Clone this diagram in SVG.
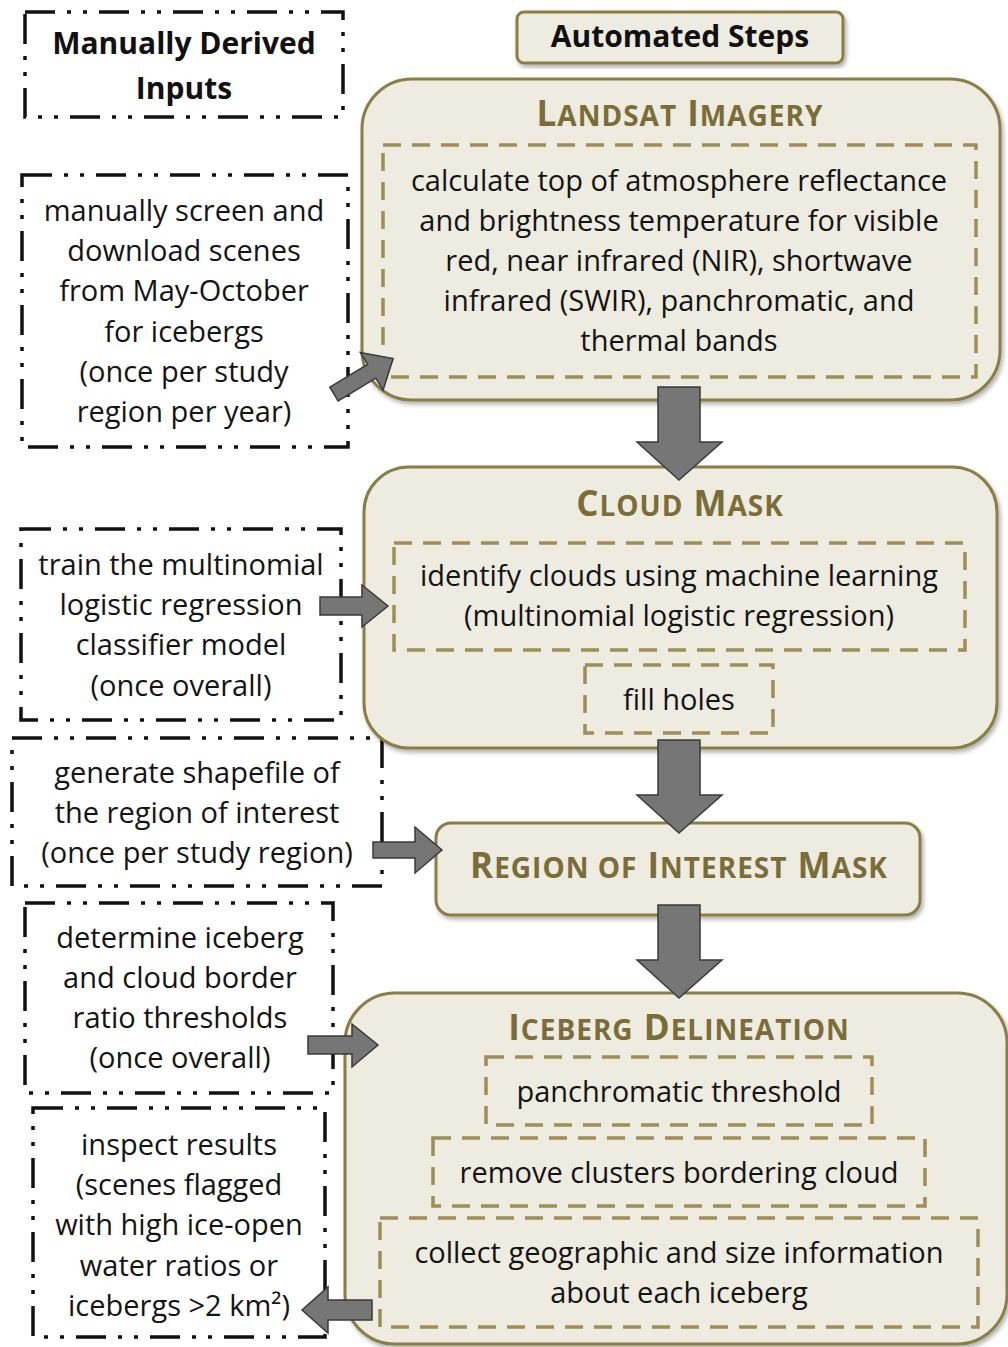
<svg xmlns="http://www.w3.org/2000/svg" width="1008" height="1347" viewBox="0 0 1008 1347">
<defs>
<filter id="sh" x="-5%" y="-5%" width="112%" height="115%">
<feDropShadow dx="2" dy="3" stdDeviation="2" flood-color="#000" flood-opacity="0.3"/>
</filter>
<style>
.man{fill:none;stroke:#111;stroke-width:3.5;stroke-dasharray:30 12 4 12 4 12}
.step{fill:#eeebe0;stroke:#8b7e45;stroke-width:3;filter:url(#sh)}
.inner{fill:none;stroke:#9d8f55;stroke-width:3.5;stroke-dasharray:18 11}
.t{font-family:"Open Sans","DejaVu Sans",sans-serif;font-size:29px;fill:#141414;text-anchor:middle}
.b{font-family:"Open Sans","DejaVu Sans",sans-serif;font-size:30px;font-weight:bold;fill:#111;text-anchor:middle}
.ti{font-family:"Open Sans","DejaVu Sans",sans-serif;font-size:35px;font-weight:bold;fill:#7a6d37;text-anchor:middle;letter-spacing:1px}
.sc{font-size:28px}
.arrow{fill:#767676;stroke:#3a3a3a;stroke-width:1.5;stroke-linejoin:miter}
</style>
</defs>
<rect width="1008" height="1347" fill="#fff"/>

<g id="manual-header">
<rect class="man" x="25" y="12" width="318" height="105"/>
<text class="b" x="184" y="54">Manually Derived</text>
<text class="b" x="184" y="99">Inputs</text>
</g>

<g id="manual-screen">
<rect class="man" x="22" y="175" width="326" height="272"/>
<text class="t" x="184" y="221">manually screen and</text>
<text class="t" x="184" y="261">download scenes</text>
<text class="t" x="184" y="301">from May-October</text>
<text class="t" x="184" y="342">for icebergs</text>
<text class="t" x="184" y="382">(once per study</text>
<text class="t" x="184" y="422">region per year)</text>
</g>

<g id="manual-train">
<rect class="man" x="21" y="529" width="320" height="191"/>
<text class="t" x="181" y="575">train the multinomial</text>
<text class="t" x="181" y="615">logistic regression</text>
<text class="t" x="181" y="655">classifier model</text>
<text class="t" x="181" y="696">(once overall)</text>
</g>

<g id="manual-shapefile">
<rect class="man" x="12" y="738" width="370" height="148"/>
<text class="t" x="197" y="783">generate shapefile of</text>
<text class="t" x="197" y="823">the region of interest</text>
<text class="t" x="197" y="863">(once per study region)</text>
</g>

<g id="manual-thresholds">
<rect class="man" x="25" y="903" width="308" height="190"/>
<text class="t" x="180" y="948">determine iceberg</text>
<text class="t" x="180" y="988">and cloud border</text>
<text class="t" x="180" y="1028">ratio thresholds</text>
<text class="t" x="180" y="1068">(once overall)</text>
</g>

<g id="manual-inspect">
<rect class="man" x="33" y="1108" width="292" height="229"/>
<text class="t" x="179" y="1155">inspect results</text>
<text class="t" x="179" y="1195">(scenes flagged</text>
<text class="t" x="179" y="1235">with high ice-open</text>
<text class="t" x="179" y="1276">water ratios or</text>
<text class="t" x="179" y="1316">icebergs &gt;2 km²)</text>
</g>

<g id="automated-header">
<rect class="step" x="517" y="12" width="326" height="51" rx="7"/>
<text class="b" x="680" y="47">Automated Steps</text>
</g>

<g id="landsat">
<rect class="step" x="362" y="79" width="638" height="321" rx="50"/>
<text class="ti" x="680" y="126">L<tspan class="sc">ANDSAT</tspan> I<tspan class="sc">MAGERY</tspan></text>
<rect class="inner" x="383" y="145" width="593" height="232"/>
<text class="t" x="679" y="191">calculate top of atmosphere reflectance</text>
<text class="t" x="679" y="231">and brightness temperature for visible</text>
<text class="t" x="679" y="271">red, near infrared (NIR), shortwave</text>
<text class="t" x="679" y="311">infrared (SWIR), panchromatic, and</text>
<text class="t" x="679" y="351">thermal bands</text>
</g>

<g id="cloud-mask">
<rect class="step" x="364" y="467" width="633" height="281" rx="45"/>
<text class="ti" x="680" y="516">C<tspan class="sc">LOUD</tspan> M<tspan class="sc">ASK</tspan></text>
<rect class="inner" x="394" y="543" width="571" height="107"/>
<text class="t" x="679" y="586">identify clouds using machine learning</text>
<text class="t" x="679" y="626">(multinomial logistic regression)</text>
<rect class="inner" x="585" y="665" width="188" height="68"/>
<text class="t" x="679" y="710">fill holes</text>
</g>

<g id="roi-mask">
<rect class="step" x="436" y="823" width="484" height="92" rx="15"/>
<text class="ti" x="679" y="878">R<tspan class="sc">EGION OF</tspan> I<tspan class="sc">NTEREST</tspan> M<tspan class="sc">ASK</tspan></text>
</g>

<g id="iceberg-delineation">
<rect class="step" x="345" y="993" width="662" height="351" rx="50"/>
<text class="ti" x="679" y="1040">I<tspan class="sc">CEBERG</tspan> D<tspan class="sc">ELINEATION</tspan></text>
<rect class="inner" x="486" y="1057" width="386" height="68"/>
<text class="t" x="679" y="1102">panchromatic threshold</text>
<rect class="inner" x="433" y="1138" width="492" height="68"/>
<text class="t" x="679" y="1183">remove clusters bordering cloud</text>
<rect class="inner" x="380" y="1218" width="598" height="109"/>
<text class="t" x="679" y="1263">collect geographic and size information</text>
<text class="t" x="679" y="1303">about each iceberg</text>
</g>

<g id="connectors">
<path class="arrow" d="M0,-8 H44 V-22 L69,0 L44,22 V8 H0 Z" transform="translate(334,394) rotate(-31)"/>
<path class="arrow" d="M658,387 H700 V442 H722 L679,480 L637,442 H658 Z"/>
<path class="arrow" d="M320,597 H362 V585 L388,606 L362,627 V615 H320 Z"/>
<path class="arrow" d="M658,740 H700 V795 H722 L679,833 L637,795 H658 Z"/>
<path class="arrow" d="M373,842 H415 V827 L442,850 L415,873 V858 H373 Z"/>
<path class="arrow" d="M658,905 H700 V960 H722 L679,998 L637,960 H658 Z"/>
<path class="arrow" d="M308,1036 H352 V1024 L378,1045 L352,1067 V1054 H308 Z"/>
<path class="arrow" d="M372,1300 H328 V1287 L302,1310 L328,1333 V1320 H372 Z"/>
</g>
</svg>
